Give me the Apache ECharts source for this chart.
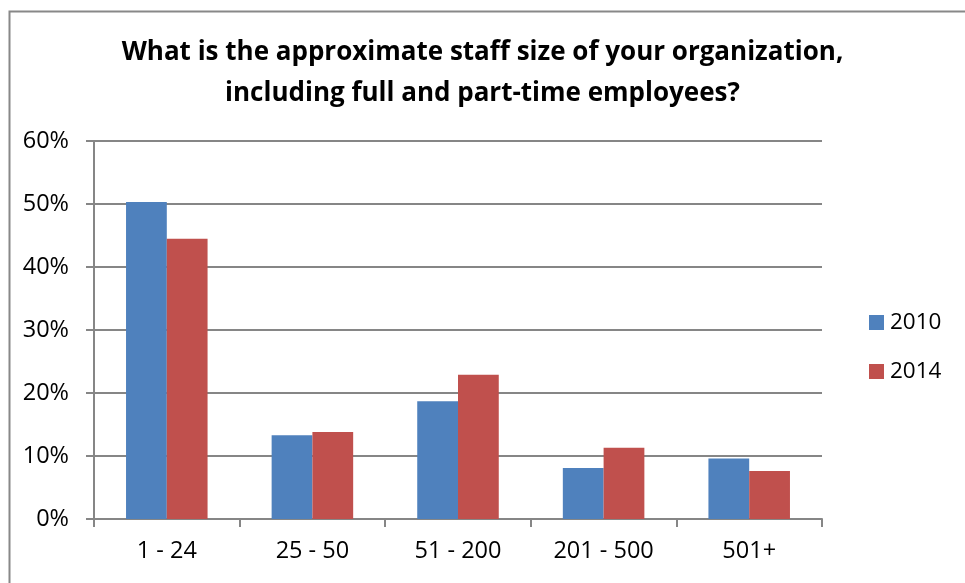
<!DOCTYPE html>
<html>
<head>
<meta charset="utf-8">
<script src="https://cdn.jsdelivr.net/npm/echarts@6/dist/echarts.min.js"></script>
<style>html,body{margin:0;padding:0;background:#fff}#c{width:965px;height:583px}</style>
</head>
<body>
<div id="c"></div>
<script>
var categories = ['1 - 24', '25 - 50', '51 - 200', '201 - 500', '501+'];
var series2010 = [50.3, 13.3, 18.7, 8.1, 9.6];
var series2014 = [44.5, 13.8, 22.9, 11.3, 7.6];
var seriesNames = ['2010', '2014'];
var titleText = 'What is the approximate staff size of your organization,\nincluding full and part-time employees?';

var FONT = '"Open Sans"';
var chart = echarts.init(document.getElementById('c'), null, {renderer: 'canvas'});
chart.setOption({
  animation: false,
  backgroundColor: '#fff',
  graphic: [{
    type: 'rect', left: 7, top: 9, shape: {width: 1000, height: 620},
    style: {fill: 'none', stroke: '#888', lineWidth: 2}, z: 0
  }],
  title: {
    text: titleText, left: 'center', top: 27,
    textStyle: {fontFamily: FONT, fontWeight: 'bold', fontSize: 26, color: '#000', lineHeight: 41}
  },
  legend: {
    orient: 'vertical', left: 864, top: 306, itemGap: 26,
    itemWidth: 15, itemHeight: 15, icon: 'rect',
    textStyle: {fontFamily: FONT, fontSize: 22.5, color: '#000', padding: [0, 0, 0, 1]},
    data: seriesNames
  },
  grid: {left: 94, right: 143, top: 141, bottom: 64, containLabel: false},
  xAxis: {
    type: 'category', data: categories,
    axisLine: {lineStyle: {color: '#868686', width: 2}},
    axisTick: {show: true, alignWithLabel: false, length: 8, lineStyle: {color: '#868686', width: 2}},
    axisLabel: {fontFamily: FONT, fontSize: 23.5, color: '#000', margin: 20}
  },
  yAxis: {
    type: 'value', min: 0, max: 60, interval: 10,
    axisLine: {show: true, lineStyle: {color: '#868686', width: 2}},
    axisTick: {show: true, length: 8, lineStyle: {color: '#868686', width: 2}},
    splitLine: {lineStyle: {color: '#868686', width: 2}},
    axisLabel: {fontFamily: FONT, fontSize: 23.5, color: '#000', margin: 25, formatter: '{value}%'}
  },
  series: [
    {name: seriesNames[0], type: 'bar', data: series2010, barGap: '0%', barCategoryGap: '44%',
     itemStyle: {color: '#4F81BD'}},
    {name: seriesNames[1], type: 'bar', data: series2014, barGap: '0%', barCategoryGap: '44%',
     itemStyle: {color: '#C0504D'}}
  ]
});
</script>
</body>
</html>
